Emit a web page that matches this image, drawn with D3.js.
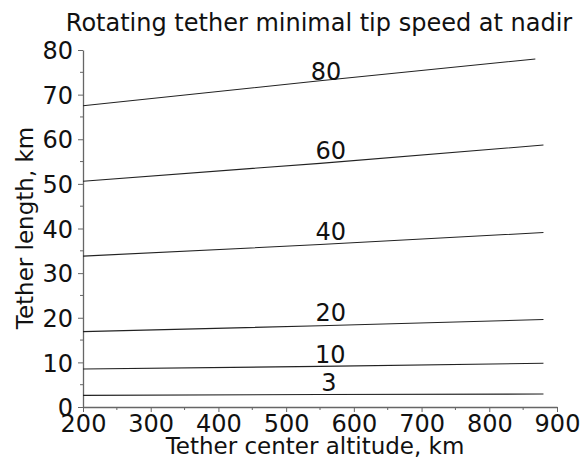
<!DOCTYPE html>
<html>
<head>
<meta charset="utf-8">
<script src="https://cdn.jsdelivr.net/npm/d3@7"></script>
<style>
  html, body { margin: 0; padding: 0; background: #fff; }
  svg text { font-family: "DejaVu Sans", sans-serif; fill: #111; }
</style>
</head>
<body>
<svg id="chart" width="580" height="459"></svg>
<script>
// ---- data ----
const speeds = [3, 10, 20, 40, 60, 80];            // tip speed labels
const altStart = [200, 200, 200, 200, 200, 200];   // km
const altMid   = [550, 550, 550, 550, 550, 550];   // km
const altEnd   = [880, 880, 880, 880, 880, 868];   // km
const lenStart = [2.6, 8.5, 16.9, 33.8, 50.6, 67.5];  // km
const lenMid   = [2.8, 9.1, 18.2, 36.4, 54.6, 73.1];  // km
const lenEnd   = [2.9, 9.8, 19.6, 39.1, 58.7, 78.0];  // km
const labelAlt = [563, 565, 566, 566, 566, 559];   // label position along x (km)
const labelLen = [3.6, 9.9, 19.3, 37.4, 55.6, 73.3]; // label baseline (km)
const xTicks = [200, 300, 400, 500, 600, 700, 800, 900];
const yTicks = [0, 10, 20, 30, 40, 50, 60, 70, 80];
const xMinor = [250, 350, 450, 550, 650, 750, 850];
const yMinor = [5, 15, 25, 35, 45, 55, 65, 75];
const title = "Rotating tether minimal tip speed at nadir";
const xLabel = "Tether center altitude, km";
const yLabel = "Tether length, km";

// ---- layout ----
const svg = d3.select("#chart");
const pLeft = 83, pRight = 557, pTop = 50, pBottom = 407;
const x = d3.scaleLinear().domain([200, 900]).range([pLeft, pRight]);
const y = d3.scaleLinear().domain([0, 80]).range([pBottom, pTop]);
const axisColor = "#666";

// minor ticks
svg.append("g").selectAll("line").data(xMinor).join("line")
  .attr("x1", d => x(d)).attr("x2", d => x(d))
  .attr("y1", pBottom).attr("y2", pBottom + 3)
  .attr("stroke", axisColor).attr("stroke-width", 1);
svg.append("g").selectAll("line").data(yMinor).join("line")
  .attr("x1", pLeft - 3).attr("x2", pLeft)
  .attr("y1", d => y(d)).attr("y2", d => y(d))
  .attr("stroke", axisColor).attr("stroke-width", 1);

// axes
const xAxis = svg.append("g").attr("transform", `translate(0,${pBottom})`)
  .call(d3.axisBottom(x).tickValues(xTicks).tickSize(5).tickSizeOuter(0).tickPadding(3));
const yAxis = svg.append("g").attr("transform", `translate(${pLeft},0)`)
  .call(d3.axisLeft(y).tickValues(yTicks).tickSize(5).tickSizeOuter(0).tickPadding(5));
[xAxis, yAxis].forEach(g => {
  g.select(".domain").attr("stroke", axisColor).attr("stroke-width", 1.3);
  g.selectAll(".tick line").attr("stroke", axisColor);
  g.selectAll(".tick text").style("font-family", "DejaVu Sans, sans-serif")
    .style("font-size", "24px").attr("fill", "#111");
});
xAxis.selectAll(".tick text").attr("dy", "0.71em");
yAxis.selectAll(".tick text").attr("dy", "0.36em");

// lines
const line = d3.line().x(d => x(d[0])).y(d => y(d[1]));
speeds.forEach((s, i) => {
  const pts = [[altStart[i], lenStart[i]], [altMid[i], lenMid[i]], [altEnd[i], lenEnd[i]]];
  svg.append("path").datum(pts).attr("d", line)
    .attr("fill", "none").attr("stroke", "#222").attr("stroke-width", 1.1);
  svg.append("text").attr("x", x(labelAlt[i])).attr("y", y(labelLen[i]))
    .attr("text-anchor", "middle").style("font-size", "24px").text(s);
});

// titles
svg.append("text").attr("x", 319).attr("y", 31).attr("text-anchor", "middle")
  .style("font-size", "24px").text(title);
svg.append("text").attr("x", 315).attr("y", 454).attr("text-anchor", "middle")
  .style("font-size", "23px").text(xLabel);
svg.append("text").attr("transform", "translate(33,228) rotate(-90)")
  .attr("text-anchor", "middle").style("font-size", "23px").text(yLabel);
</script>
</body>
</html>
